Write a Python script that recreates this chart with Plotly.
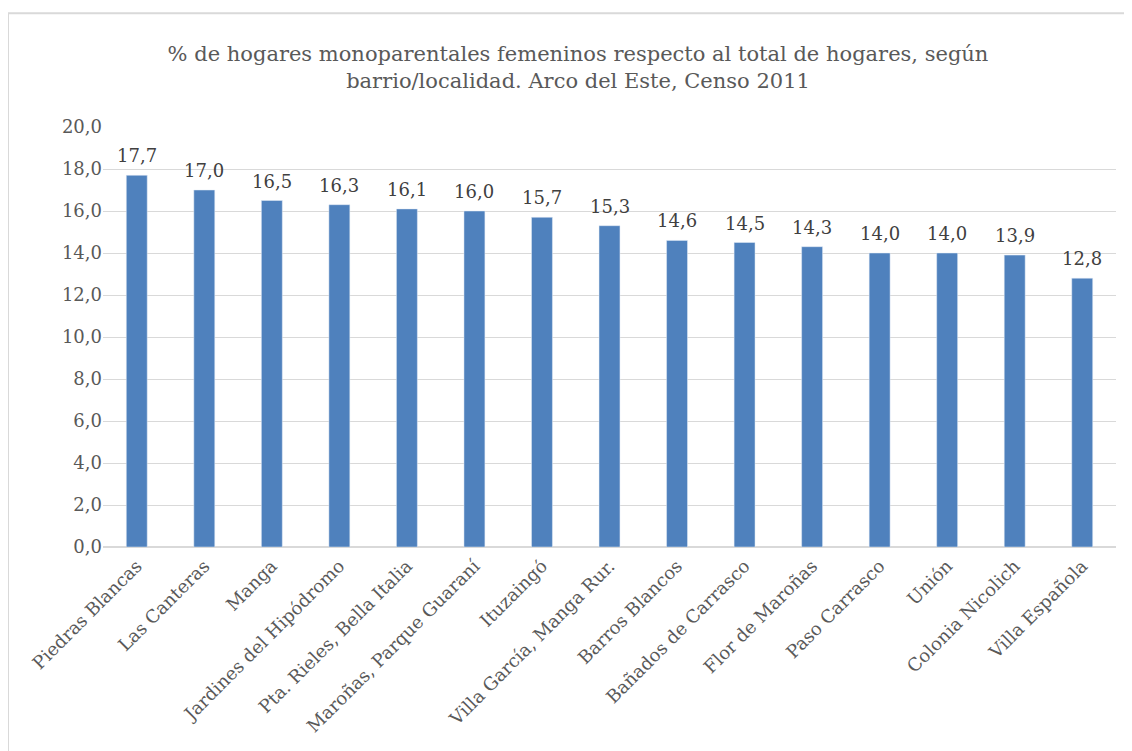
import plotly.graph_objects as go

barrios = [
    "Piedras Blancas", "Las Canteras", "Manga", "Jardines del Hipódromo",
    "Pta. Rieles, Bella Italia", "Maroñas, Parque Guaraní", "Ituzaingó",
    "Villa García, Manga Rur.", "Barros Blancos", "Bañados de Carrasco",
    "Flor de Maroñas", "Paso Carrasco", "Unión", "Colonia Nicolich", "Villa Española",
]
porcentajes = [17.7, 17.0, 16.5, 16.3, 16.1, 16.0, 15.7, 15.3, 14.6, 14.5, 14.3, 14.0, 14.0, 13.9, 12.8]
y_ticks = [0, 2, 4, 6, 8, 10, 12, 14, 16, 18, 20]

FONT = "DejaVu Serif"

fig = go.Figure()
fig.add_trace(
    go.Bar(
        x=barrios,
        y=porcentajes,
        marker_color="#4f81bd",
        cliponaxis=False,
    )
)

# etiquetas de datos sobre cada barra
for barrio, valor in zip(barrios, porcentajes):
    fig.add_annotation(
        x=barrio, y=valor,
        text=f"{valor:.1f}".replace(".", ","),
        showarrow=False,
        yanchor="bottom",
        yshift=7,
        font=dict(family=FONT, size=18, color="#404040"),
    )

# marco gris del gráfico
fig.add_shape(
    type="rect", xref="paper", yref="paper",
    x0=-0.0938, x1=1.2, y0=-0.6, y1=1.271,
    line=dict(color="#d9d9d9", width=2), fillcolor="rgba(0,0,0,0)", layer="below",
)

# la página añade 8px de margen al cuerpo, se compensa aquí
fig.update_layout(
    width=1124,
    height=743,
    autosize=False,
    separators=",.",
    paper_bgcolor="white",
    plot_bgcolor="white",
    showlegend=False,
    bargap=0.69,
    margin=dict(l=95, r=16, t=119, b=204),
    title=dict(
        text="% de hogares monoparentales femeninos respecto al total de hogares, según<br>barrio/localidad. Arco del Este, Censo 2011",
        x=570 / 1124, xref="container", xanchor="center",
        y=1 - 53 / 743, yref="container", yanchor="middle",
        font=dict(family=FONT, size=21, color="#595959"),
    ),
    font=dict(family=FONT, color="#595959"),
)
fig.update_yaxes(
    range=[0, 20],
    tickvals=y_ticks,
    tickformat=".1f",
    showgrid=True,
    gridcolor="#d9d9d9",
    zeroline=True,
    zerolinecolor="#d9d9d9",
    showline=False,
    ticks="",
    tickfont=dict(family=FONT, size=18, color="#595959"),
)
fig.update_xaxes(
    tickangle=-45,
    automargin=False,
    showline=False,
    ticks="",
    ticklabelstandoff=4,
    tickfont=dict(family=FONT, size=18, color="#595959"),
)

fig.write_html("out.html")
